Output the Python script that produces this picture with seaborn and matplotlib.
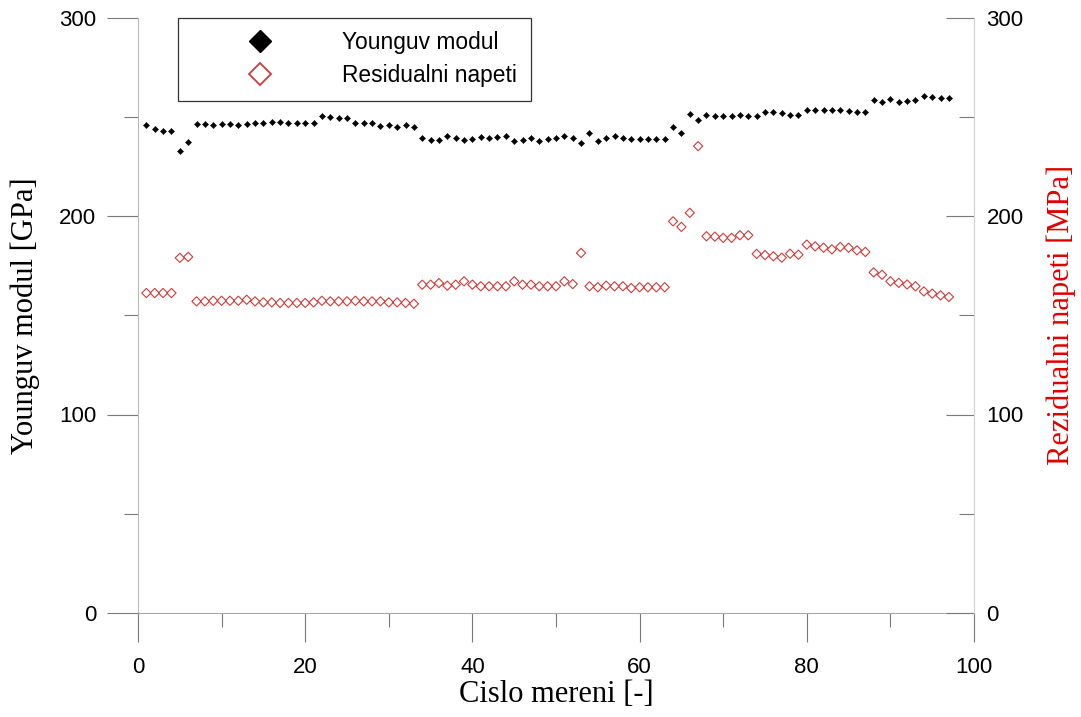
import numpy as np
import pandas as pd
import matplotlib
matplotlib.use("Agg")
import matplotlib.pyplot as plt
import seaborn as sns
from matplotlib.lines import Line2D
from matplotlib.ticker import MultipleLocator

# Measurement index
measurement = np.arange(1, 98)

# Young's modulus [GPa]
young_modulus = [
    245.6, 244.0, 242.9, 242.9, 232.6, 237.2, 246.4, 246.4, 245.9, 246.4,
    246.4, 245.9, 246.4, 247.1, 247.1, 247.3, 247.6, 247.1, 246.6, 247.1,
    246.6, 250.4, 250.0, 249.5, 249.5, 247.1, 246.6, 247.1, 245.4, 245.9,
    245.0, 245.7, 244.6, 239.4, 238.5, 238.5, 240.5, 239.2, 238.4, 238.9,
    239.7, 239.4, 239.9, 240.5, 237.8, 238.5, 239.4, 237.8, 239.0, 239.4,
    240.2, 239.4, 236.8, 241.7, 238.0, 239.4, 240.2, 239.4, 238.9, 239.0,
    238.9, 239.0, 239.0, 244.6, 241.9, 251.6, 248.6, 251.1, 250.6, 250.3,
    250.3, 250.7, 250.3, 250.3, 252.3, 252.3, 252.0, 251.0, 251.0, 253.3,
    253.3, 253.3, 253.3, 253.3, 252.8, 252.3, 252.3, 258.2, 257.4, 259.0,
    257.4, 257.9, 258.2, 260.4, 259.9, 259.5, 259.5,
]

# Residual stress [MPa]
residual_stress = [
    161.2, 161.2, 161.2, 161.2, 178.9, 179.4, 157.0, 157.0, 157.3, 157.3,
    157.3, 157.3, 157.8, 157.0, 156.5, 156.5, 156.2, 156.2, 156.2, 156.2,
    156.5, 157.3, 157.0, 157.0, 157.0, 157.3, 157.0, 157.0, 157.0, 156.5,
    156.5, 156.2, 155.8, 165.4, 165.4, 166.2, 164.9, 165.4, 167.1, 165.4,
    164.6, 164.6, 164.6, 164.6, 167.1, 165.4, 165.4, 164.6, 164.6, 164.6,
    167.1, 165.7, 181.4, 164.6, 164.1, 164.9, 164.6, 164.6, 163.7, 164.1,
    164.1, 164.1, 164.1, 197.3, 194.5, 201.6, 235.2, 189.8, 189.6, 189.0,
    189.0, 190.3, 190.3, 180.9, 180.3, 179.7, 179.0, 181.0, 180.5, 185.6,
    184.7, 184.0, 183.2, 184.4, 184.0, 182.7, 181.9, 171.6, 170.4, 167.1,
    166.3, 165.5, 164.6, 162.0, 160.9, 160.0, 159.2,
]

series_labels = ["Younguv modul", "Residualni napeti"]
x_label = "Cislo mereni [-]"
y_label_left = "Younguv modul [GPa]"
y_label_right = "Rezidualni napeti [MPa]"

RED = "#d23a3a"
TICK_GREY = "#7a7a7a"

sns.set_style("white")
plt.rcParams["font.family"] = ["Liberation Sans", "DejaVu Sans"]
plt.rcParams["text.color"] = "black"
plt.rcParams["axes.labelcolor"] = "black"
SERIF = ["Liberation Serif", "DejaVu Serif"]

df = pd.DataFrame({"n": measurement, "E": young_modulus, "sigma": residual_stress})

fig = plt.figure(figsize=(10.81, 7.17), dpi=100)
ax = fig.add_axes([138 / 1081, 1 - 613 / 717, 836 / 1081, 595.5 / 717])
ax2 = ax.twinx()

sns.scatterplot(data=df, x="n", y="E", ax=ax, marker="D", s=10,
                color="black", edgecolor="black", linewidth=0.3, legend=False)
sns.scatterplot(data=df, x="n", y="sigma", ax=ax2, marker="D", s=22,
                facecolor="none", edgecolor=RED, linewidth=0.8, legend=False)

for a in (ax, ax2):
    a.set_xlim(0, 100)
    a.set_ylim(0, 300)
    a.yaxis.set_major_locator(MultipleLocator(100))
    a.yaxis.set_minor_locator(MultipleLocator(50))
ax.xaxis.set_major_locator(MultipleLocator(20))
ax.xaxis.set_minor_locator(MultipleLocator(10))

# spines: left / bottom on the primary axes, right on the twin
ax.spines["top"].set_visible(False)
ax.spines["right"].set_visible(False)
ax.spines["left"].set_color("#b8b8b8")
ax.spines["bottom"].set_color("#a8a8a8")
for s in ("top", "left", "bottom"):
    ax2.spines[s].set_visible(False)
ax2.spines["right"].set_color("#d0d0d0")
for sp in list(ax.spines.values()) + list(ax2.spines.values()):
    sp.set_linewidth(0.8)

ax.tick_params(axis="y", which="major", direction="out", length=22, width=0.8,
               color=TICK_GREY, labelcolor="black", labelsize=16, pad=8, left=True)
ax.tick_params(axis="y", which="minor", direction="out", length=10, width=0.8,
               color=TICK_GREY, left=True)
ax.tick_params(axis="x", which="major", direction="out", length=21, width=0.8,
               color=TICK_GREY, labelcolor="black", labelsize=16, pad=11, bottom=True)
ax.tick_params(axis="x", which="minor", direction="out", length=10, width=0.8,
               color=TICK_GREY, bottom=True)
ax2.tick_params(axis="y", which="major", direction="in", length=20, width=0.8,
                color=TICK_GREY, labelcolor="black", labelsize=16, pad=9, right=True)
ax2.tick_params(axis="y", which="minor", direction="in", length=11, width=0.8,
                color=TICK_GREY, right=True)

ax.set_xlabel(x_label, fontsize=22, family=SERIF, color="black")
ax.set_ylabel(y_label_left, fontsize=22, family=SERIF, color="black")
ax2.set_ylabel(y_label_right, fontsize=22, family=SERIF, color="#e00000")
ax.xaxis.set_label_coords(0.5, -0.112)
ax.yaxis.set_label_coords(-0.117, 0.5)
ax2.yaxis.set_label_coords(1.087, 0.5)

handles = [
    Line2D([], [], linestyle="none", marker="D", markersize=11.5,
           markerfacecolor="black", markeredgecolor="black"),
    Line2D([], [], linestyle="none", marker="D", markersize=11.0,
           markerfacecolor="none", markeredgecolor=RED, markeredgewidth=1.3),
]
leg = ax2.legend(handles, series_labels, loc="upper left",
                 bbox_to_anchor=(40 / 836, 1.0), borderaxespad=0,
                 fontsize=16.4, frameon=True, fancybox=False, framealpha=1,
                 edgecolor="#333333", borderpad=0.6, labelspacing=0.43,
                 handlelength=6.0, handletextpad=0.6)
leg.get_frame().set_linewidth(0.9)

fig.savefig("out.png", dpi=100)
